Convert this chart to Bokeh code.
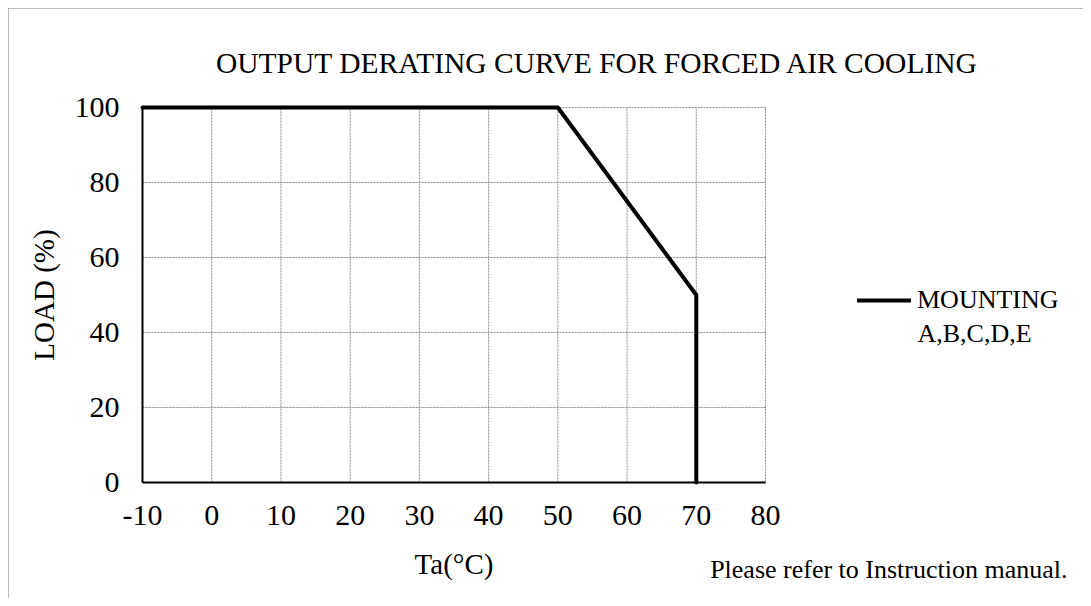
from bokeh.plotting import figure
from bokeh.models import Range1d, FixedTicker, Label, Legend, LegendItem
from bokeh.embed import file_html
from bokeh.resources import INLINE

# data
ta = [-10, 50, 70, 70]
load = [100, 100, 50, 0]
series_name = "MOUNTING"
series_name2 = "A,B,C,D,E"
x_ticks = [-10, 0, 10, 20, 30, 40, 50, 60, 70, 80]
x_tick_labels = ["-10", "0", "10", "20", "30", "40", "50", "60", "70", "80"]
y_ticks = [0, 20, 40, 60, 80, 100]
y_tick_labels = ["0", "20", "40", "60", "80", "100"]
title_text = "OUTPUT DERATING CURVE FOR FORCED AIR COOLING"
x_title = "Ta(\u00b0C)"
y_title = "LOAD (%)"
note_text = "Please refer to Instruction manual."

FONT = "Liberation Serif"

# layout (pixels inside the 1075x590 figure)
FIG_W, FIG_H = 1075, 590
PL, PR, PT, PB = 134, 757, 99, 474          # plotting-area edges
X0, X1 = x_ticks[0], x_ticks[-1]
Y0, Y1 = y_ticks[0], y_ticks[-1]
upx = (X1 - X0) / (PR - PL)
upy = (Y1 - Y0) / (PB - PT)
x_start, x_end = X0 - PL * upx, X1 + (FIG_W - PR) * upx
y_start, y_end = Y0 - (FIG_H - PB) * upy, Y1 + PT * upy


def sx(px):  # page pixel -> data x
    return x_start + (px - 8) * upx


def sy(py):  # page pixel -> data y
    return y_end - (py - 8) * upy


p = figure(width=FIG_W, height=FIG_H, x_range=Range1d(x_start, x_end), y_range=Range1d(y_start, y_end),
           output_backend="svg", toolbar_location=None,
           min_border_left=0, min_border_right=0, min_border_top=0, min_border_bottom=0)
p.styles = {"margin": "8px", "outline": "1px solid #7a7a7a", "outline-offset": "-1px"}
p.outline_line_color = None
p.background_fill_color = "white"
p.border_fill_color = "white"
p.xgrid.visible = False
p.ygrid.visible = False

# grid lines from the ticks
p.segment(x0=x_ticks, y0=[Y0] * len(x_ticks), x1=x_ticks, y1=[Y1] * len(x_ticks),
          line_color="#8a8a8a", line_dash="2 1", line_width=1)
p.segment(x0=[X0] * len(y_ticks), y0=y_ticks, x1=[X1] * len(y_ticks), y1=y_ticks,
          line_color="#8a8a8a", line_dash="2 1", line_width=1)

for ax in (p.xaxis[0], p.yaxis[0]):
    ax.axis_line_color = "black"
    ax.axis_line_width = 2
    ax.major_tick_line_color = None
    ax.minor_tick_line_color = None
    ax.major_label_text_font = FONT
    ax.major_label_text_font_size = "30px"
    ax.major_label_text_color = "black"
    ax.axis_label_text_font = FONT
    ax.axis_label_text_font_size = "29px"
    ax.axis_label_text_font_style = "normal"
    ax.axis_label_text_color = "black"

p.xaxis.fixed_location = Y0
p.yaxis.fixed_location = X0
p.xaxis.bounds = (X0, X1)
p.yaxis.bounds = (Y0, Y1)
p.xaxis.ticker = FixedTicker(ticks=x_ticks)
p.yaxis.ticker = FixedTicker(ticks=y_ticks)
p.xaxis.major_label_overrides = {t: l for t, l in zip(x_ticks, x_tick_labels)}
p.yaxis.major_label_overrides = {t: l for t, l in zip(y_ticks, y_tick_labels)}
p.xaxis.major_label_standoff = 17
p.yaxis.major_label_standoff = 17
p.xaxis.axis_label = x_title
p.yaxis.axis_label = y_title
p.xaxis.axis_label_standoff = 20
p.yaxis.axis_label_standoff = 12

r = p.line(ta, load, line_color="black", line_width=4, line_join="round", line_cap="round")

legend = Legend(items=[LegendItem(label=series_name, renderers=[r])], location=(849, 283),
                glyph_width=54, glyph_height=30, label_height=30, label_standoff=6,
                padding=0, margin=0, spacing=0, border_line_color=None,
                background_fill_alpha=0, label_text_font=FONT, label_text_font_size="26px",
                label_text_color="black")
p.add_layout(legend)

p.add_layout(Label(x=sx(597), y=sy(62), text=title_text, text_font=FONT, text_font_size="29.5px",
                   text_color="black", text_align="center", text_baseline="alphabetic"))
p.add_layout(Label(x=sx(917), y=sy(333), text=series_name2, text_font=FONT, text_font_size="26px",
                   text_color="black", text_align="left", text_baseline="alphabetic"))
p.add_layout(Label(x=sx(1067), y=sy(569), text=note_text, text_font=FONT, text_font_size="26px",
                   text_color="black", text_align="right", text_baseline="alphabetic"))

open("out.html", "w").write(file_html(p, INLINE))
